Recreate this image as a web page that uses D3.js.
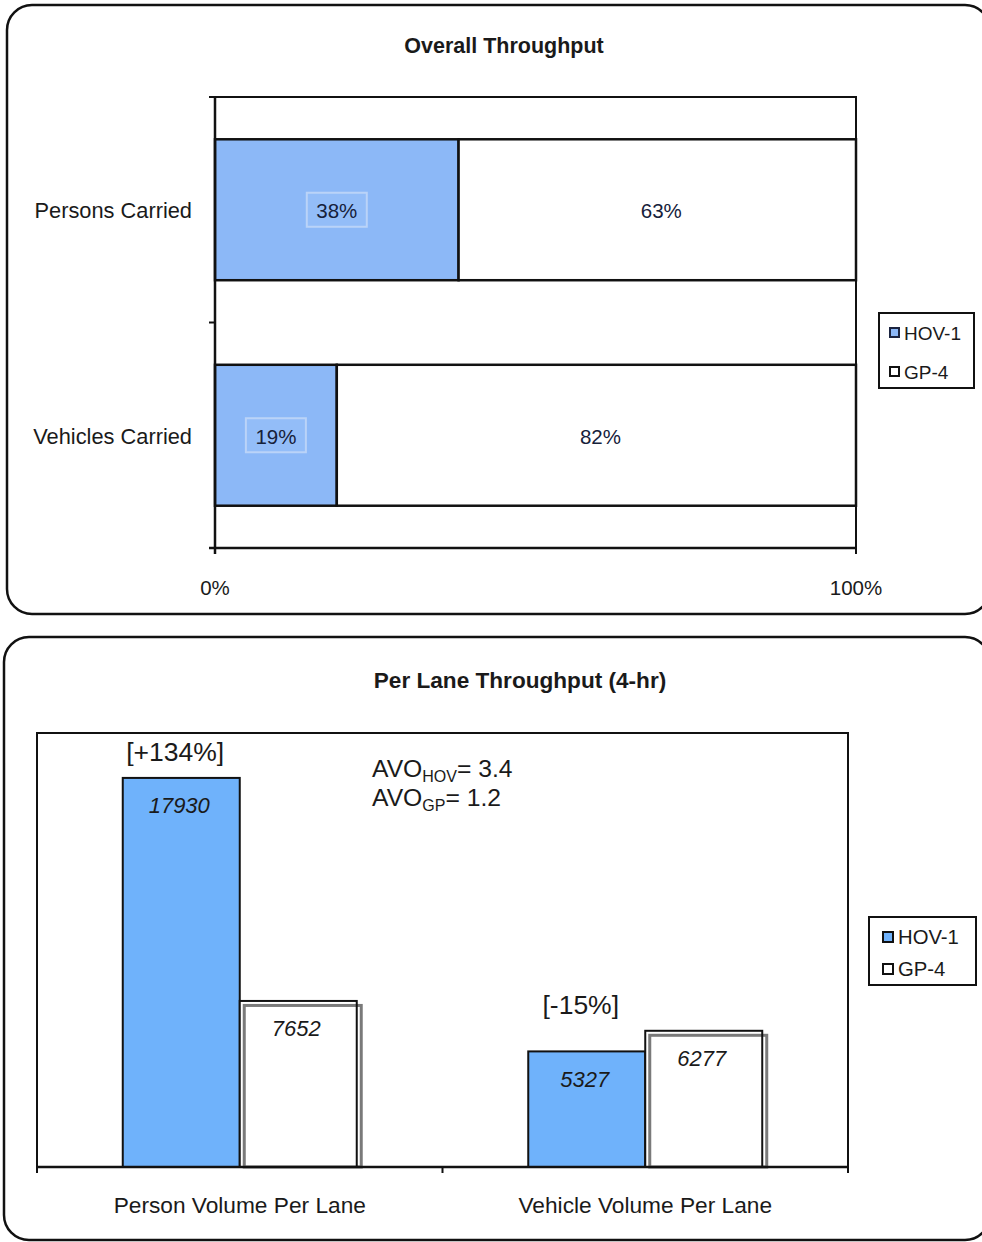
<!DOCTYPE html>
<html>
<head>
<meta charset="utf-8">
<script src="https://cdn.jsdelivr.net/npm/d3@7/dist/d3.min.js"></script>
<style>
  html, body { margin: 0; padding: 0; background: #fff; }
  svg text { font-family: "Liberation Sans", Arial, sans-serif; fill: #1a1a1a; }
</style>
</head>
<body>
<svg id="chart" width="982" height="1242"></svg>
<script>
// ---- data ----
const seriesNames = ["HOV-1", "GP-4"];

const overallCategories = ["Persons Carried", "Vehicles Carried"];
const overallHov = [38, 19];
const overallGp = [63, 82];
const overallTickValues = [0, 100];
const overallTickLabels = ["0%", "100%"];

const laneCategories = ["Person Volume Per Lane", "Vehicle Volume Per Lane"];
const laneHov = [17930, 5327];
const laneGp = [7652, 6277];
const laneChangeLabels = ["[+134%]", "[-15%]"];

const avoLabels = ["HOV", "GP"];
const avoValues = [3.4, 1.2];

// ---- styles ----
const hovTopFill = "#8cb8f7";
const hovBottomFill = "#6fb2fb";
const ink = "#111";

const svg = d3.select("#chart");

// panel frames
svg.append("rect").attr("x", 7).attr("y", 5).attr("width", 983).attr("height", 609)
  .attr("rx", 25).attr("fill", "none").attr("stroke", ink).attr("stroke-width", 2.5);
svg.append("rect").attr("x", 4).attr("y", 637).attr("width", 986).attr("height", 603)
  .attr("rx", 25).attr("fill", "none").attr("stroke", ink).attr("stroke-width", 2.5);

// ================= Overall Throughput (100% stacked horizontal) =================
const topBox = { left: 215, right: 856, top: 97, bottom: 548 };
const gTop = svg.append("g");

gTop.append("text").attr("x", 504).attr("y", 46).attr("text-anchor", "middle")
  .attr("dominant-baseline", "central").attr("font-weight", "bold").attr("font-size", 21.5)
  .text("Overall Throughput");

// shares are percent of the whole, so the scale is clamped at 100%
const xTop = d3.scaleLinear().domain([0, 100]).range([topBox.left, topBox.right]).clamp(true);
const yTop = d3.scaleBand().domain(overallCategories).range([topBox.top, topBox.bottom])
  .paddingInner(0.375).paddingOuter(0.1875);

const rowsTop = overallCategories.map((c, i) => [
  { cat: c, series: seriesNames[0], v: overallHov[i], x0: 0, x1: overallHov[i] },
  { cat: c, series: seriesNames[1], v: overallGp[i], x0: overallHov[i], x1: overallHov[i] + overallGp[i] }
]).flat();

// plot frame (top and right edges)
gTop.append("path")
  .attr("d", `M${topBox.left - 6},${topBox.top}H${topBox.right}V${topBox.bottom}`)
  .attr("fill", "none").attr("stroke", ink).attr("stroke-width", 2);

gTop.selectAll("rect.seg").data(rowsTop).join("rect").attr("class", "seg")
  .attr("x", d => xTop(d.x0)).attr("width", d => xTop(d.x1) - xTop(d.x0))
  .attr("y", d => yTop(d.cat)).attr("height", yTop.bandwidth())
  .attr("fill", d => d.series === seriesNames[0] ? hovTopFill : "#fff")
  .attr("stroke", ink).attr("stroke-width", 2.5);

// value labels
rowsTop.forEach(d => {
  const cx = (xTop(d.x0) + xTop(d.x1)) / 2 + (d.series === seriesNames[1] ? 4 : 0);
  const cy = yTop(d.cat) + yTop.bandwidth() / 2;
  if (d.series === seriesNames[0]) {
    gTop.append("rect").attr("x", cx - 30).attr("y", cy - 17).attr("width", 60).attr("height", 34)
      .attr("fill", "#93bdf8").attr("stroke", "#bad3f8").attr("stroke-width", 2);
  }
  gTop.append("text").attr("x", cx).attr("y", cy + 1).attr("text-anchor", "middle")
    .attr("dominant-baseline", "central").attr("font-size", 20.5)
    .style("fill", "#16213a").text(d.v + "%");
});

// left axis with ticks at category boundaries
const yBounds = [topBox.top, (yTop(overallCategories[0]) + yTop.bandwidth() + yTop(overallCategories[1])) / 2, topBox.bottom];
gTop.append("line").attr("x1", topBox.left).attr("x2", topBox.left).attr("y1", topBox.top).attr("y2", topBox.bottom + 6)
  .attr("stroke", ink).attr("stroke-width", 2.5);
yBounds.forEach(y => gTop.append("line").attr("x1", topBox.left - 6).attr("x2", topBox.left)
  .attr("y1", y).attr("y2", y).attr("stroke", ink).attr("stroke-width", 2));
// bottom axis
gTop.append("line").attr("x1", topBox.left - 6).attr("x2", topBox.right).attr("y1", topBox.bottom).attr("y2", topBox.bottom)
  .attr("stroke", ink).attr("stroke-width", 2.5);
overallTickValues.forEach((v, i) => {
  gTop.append("line").attr("x1", xTop(v)).attr("x2", xTop(v)).attr("y1", topBox.bottom).attr("y2", topBox.bottom + 6)
    .attr("stroke", ink).attr("stroke-width", 2);
  gTop.append("text").attr("x", xTop(v)).attr("y", 587).attr("text-anchor", "middle")
    .attr("dominant-baseline", "central").attr("font-size", 20.5).text(overallTickLabels[i]);
});
overallCategories.forEach(c => {
  gTop.append("text").attr("x", 192).attr("y", yTop(c) + yTop.bandwidth() / 2 + 1)
    .attr("text-anchor", "end").attr("dominant-baseline", "central").attr("font-size", 21.8).text(c);
});

// legend
const legTop = gTop.append("g").attr("transform", "translate(879,313)");
legTop.append("rect").attr("width", 95).attr("height", 75).attr("fill", "#fff")
  .attr("stroke", ink).attr("stroke-width", 2);
seriesNames.forEach((s, i) => {
  const cy = 20 + i * 39;
  legTop.append("rect").attr("x", 11).attr("y", cy - 5).attr("width", 9).attr("height", 9)
    .attr("fill", i === 0 ? hovTopFill : "#fff").attr("stroke", i === 0 ? "#1b2440" : ink).attr("stroke-width", 2);
  legTop.append("text").attr("x", 25).attr("y", cy).attr("dominant-baseline", "central")
    .attr("font-size", 19).text(s);
});

// ================= Per Lane Throughput (grouped columns) =================
const botBox = { left: 37, right: 848, top: 733, bottom: 1167 };
const gBot = svg.append("g");

gBot.append("text").attr("x", 520).attr("y", 680).attr("text-anchor", "middle")
  .attr("dominant-baseline", "central").attr("font-weight", "bold").attr("font-size", 22.6)
  .text("Per Lane Throughput (4-hr)");

const x0 = d3.scaleBand().domain(laneCategories).range([botBox.left, botBox.right]);
const x1 = d3.scaleBand().domain(seriesNames).range([0, x0.bandwidth()])
  .paddingInner(0).paddingOuter(0.733);
const yBot = d3.scaleLinear().domain([0, 20000]).range([botBox.bottom, botBox.top]);

// plot frame
gBot.append("rect").attr("x", botBox.left).attr("y", botBox.top)
  .attr("width", botBox.right - botBox.left).attr("height", botBox.bottom - botBox.top)
  .attr("fill", "none").attr("stroke", ink).attr("stroke-width", 2);

const barsBot = laneCategories.map((c, i) => [
  { cat: c, series: seriesNames[0], v: laneHov[i] },
  { cat: c, series: seriesNames[1], v: laneGp[i] }
]).flat();

barsBot.forEach(d => {
  const bx = x0(d.cat) + x1(d.series);
  const by = yBot(d.v);
  const bw = x1.bandwidth();
  const bh = yBot(0) - by;
  if (d.series === seriesNames[0]) {
    gBot.append("rect").attr("x", bx).attr("y", by).attr("width", bw).attr("height", bh)
      .attr("fill", hovBottomFill).attr("stroke", ink).attr("stroke-width", 2);
  } else {
    gBot.append("rect").attr("x", bx).attr("y", by).attr("width", bw).attr("height", bh)
      .attr("fill", "#fff");
    // offset shadow outline
    gBot.append("rect").attr("x", bx + 4.5).attr("y", by + 4.5).attr("width", bw).attr("height", bh - 4.5)
      .attr("fill", "none").attr("stroke", "#7a7a7a").attr("stroke-width", 3);
    gBot.append("rect").attr("x", bx).attr("y", by).attr("width", bw).attr("height", bh)
      .attr("fill", "none").attr("stroke", ink).attr("stroke-width", 2);
  }
  gBot.append("text").attr("x", bx + bw / 2 - 2).attr("y", by + 28).attr("text-anchor", "middle")
    .attr("dominant-baseline", "central").attr("font-style", "italic").attr("font-size", 22)
    .text(d.v);
});

// change labels above each group
laneCategories.forEach((c, i) => {
  const bx = x0(c) + x1(seriesNames[0]) + x1.bandwidth() / 2 - 6;
  const by = yBot(Math.max(laneHov[i], laneGp[i])) - 26;
  gBot.append("text").attr("x", bx).attr("y", by).attr("text-anchor", "middle")
    .attr("dominant-baseline", "central").attr("font-size", 26.5).text(laneChangeLabels[i]);
});

// bottom axis
gBot.append("line").attr("x1", botBox.left).attr("x2", botBox.right).attr("y1", botBox.bottom).attr("y2", botBox.bottom)
  .attr("stroke", ink).attr("stroke-width", 2.5);
const catBounds = [botBox.left, x0(laneCategories[1]), botBox.right];
catBounds.forEach(x => gBot.append("line").attr("x1", x).attr("x2", x)
  .attr("y1", botBox.bottom).attr("y2", botBox.bottom + 6).attr("stroke", ink).attr("stroke-width", 2));
laneCategories.forEach(c => {
  gBot.append("text").attr("x", x0(c) + x0.bandwidth() / 2).attr("y", 1205).attr("text-anchor", "middle")
    .attr("dominant-baseline", "central").attr("font-size", 22.7).text(c);
});

// average vehicle occupancy annotation
avoLabels.forEach((lab, i) => {
  const t = gBot.append("text").attr("x", 372).attr("y", 777 + i * 29).attr("font-size", 24.7);
  t.append("tspan").text("AVO");
  t.append("tspan").attr("font-size", 16).attr("dy", 5).text(lab);
  t.append("tspan").attr("dy", -5).text("= " + avoValues[i]);
});

// legend
const legBot = gBot.append("g").attr("transform", "translate(869,917)");
legBot.append("rect").attr("width", 107).attr("height", 68).attr("fill", "#fff")
  .attr("stroke", ink).attr("stroke-width", 2);
seriesNames.forEach((s, i) => {
  const cy = 20 + i * 32;
  legBot.append("rect").attr("x", 14).attr("y", cy - 5).attr("width", 10).attr("height", 10)
    .attr("fill", i === 0 ? hovBottomFill : "#fff").attr("stroke", ink).attr("stroke-width", 2);
  legBot.append("text").attr("x", 29).attr("y", cy).attr("dominant-baseline", "central")
    .attr("font-size", 20.3).text(s);
});
</script>
</body>
</html>
